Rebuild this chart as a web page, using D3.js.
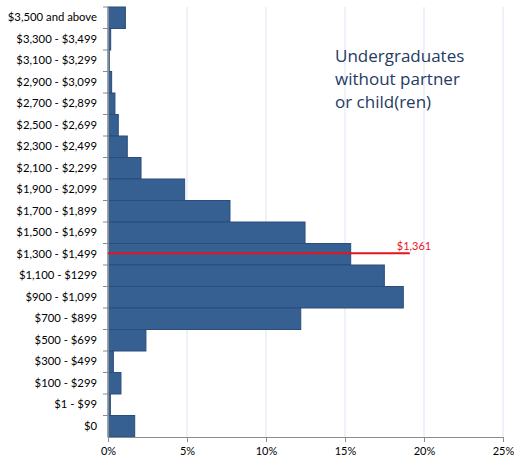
<!DOCTYPE html>
<html>
<head>
<meta charset="utf-8">
<script src="https://cdn.jsdelivr.net/npm/d3@7"></script>
<style>
  body { margin: 0; background: #fff; }
  svg { display: block; }
</style>
</head>
<body>
<svg id="chart" width="514" height="457"></svg>
<script>
// income bands, top to bottom
var categories = ["$3,500 and above", "$3,300 - $3,499", "$3,100 - $3,299", "$2,900 - $3,099",
  "$2,700 - $2,899", "$2,500 - $2,699", "$2,300 - $2,499", "$2,100 - $2,299", "$1,900 - $2,099",
  "$1,700 - $1,899", "$1,500 - $1,699", "$1,300 - $1,499", "$1,100 - $1299", "$900 - $1,099",
  "$700 - $899", "$500 - $699", "$300 - $499", "$100 - $299", "$1 - $99", "$0"];
// percent of students
var percents = [1.1, 0.17, 0.08, 0.23, 0.44, 0.65, 1.22, 2.09, 4.85, 7.72,
  12.47, 15.36, 17.49, 18.69, 12.2, 2.4, 0.34, 0.82, 0.15, 1.69];
var xTicks = [0, 5, 10, 15, 20, 25];
var medianLabel = "$1,361";
var medianBand = "$1,300 - $1,499";
var medianLineEnd = 19.1;
var titleLines = ["Undergraduates", "without partner", "or child(ren)"];

var svg = d3.select("#chart");
var margin = {top: 7, right: 11, bottom: 20, left: 108};
var width = +svg.attr("width") - margin.left - margin.right;
var height = +svg.attr("height") - margin.top - margin.bottom;
var g = svg.append("g").attr("transform", "translate(" + margin.left + "," + margin.top + ")");

var x = d3.scaleLinear().domain([0, 25]).range([0, width]);
var y = d3.scaleBand().domain(categories).range([0, height]).padding(0);

// gridlines
g.selectAll(".grid")
  .data(xTicks.slice(1))
  .enter().append("line")
    .attr("class", "grid")
    .attr("x1", d => x(d)).attr("x2", d => x(d))
    .attr("y1", 0).attr("y2", height)
    .attr("stroke", "#dce4f4")
    .attr("stroke-width", 1);

// bars
g.selectAll(".bar")
  .data(percents)
  .enter().append("rect")
    .attr("class", "bar")
    .attr("x", 0)
    .attr("y", (d, i) => y(categories[i]))
    .attr("width", d => x(d))
    .attr("height", y.bandwidth())
    .attr("fill", "#365f92")
    .attr("stroke", "#2a4d7a")
    .attr("stroke-width", 1);

// axes
var yAxis = g.append("g")
  .call(d3.axisLeft(y).tickSize(0).tickPadding(11));
yAxis.select(".domain").attr("stroke", "#8c8c8c");
yAxis.selectAll("text")
  .attr("font-family", "Lato, 'DejaVu Sans', sans-serif")
  .attr("font-size", 11.3)
  .attr("fill", "#000");

// band boundary ticks
g.selectAll(".btick")
  .data(categories)
  .enter().append("line")
    .attr("class", "btick")
    .attr("x1", -5).attr("x2", 0)
    .attr("y1", d => y(d)).attr("y2", d => y(d))
    .attr("stroke", "#8c8c8c");

var xAxis = g.append("g")
  .attr("transform", "translate(0," + height + ")")
  .call(d3.axisBottom(x).tickValues(xTicks).tickFormat(d => d + "%").tickSize(5).tickSizeOuter(0).tickPadding(5));
xAxis.select(".domain").attr("stroke", "#8c8c8c");
xAxis.selectAll(".tick line").attr("stroke", "#8c8c8c");
xAxis.selectAll("text")
  .attr("font-family", "Lato, 'DejaVu Sans', sans-serif")
  .attr("font-size", 11)
  .attr("fill", "#000");

// median line
var my = y(medianBand) + y.bandwidth() / 2 - 1;
g.append("line")
  .attr("x1", 0).attr("x2", x(medianLineEnd))
  .attr("y1", my).attr("y2", my)
  .attr("stroke", "#e8141c")
  .attr("stroke-width", 2);
g.append("text")
  .attr("x", x(medianLineEnd) - 13)
  .attr("y", my - 3)
  .attr("text-anchor", "start")
  .attr("font-family", "Lato, 'DejaVu Sans', sans-serif")
  .attr("font-size", 11)
  .attr("fill", "#e8141c")
  .text(medianLabel);

// title
svg.append("text")
  .attr("font-family", "'Open Sans', 'Noto Sans', sans-serif")
  .attr("font-size", 17)
  .attr("fill", "#1f3b64")
  .selectAll("tspan")
  .data(titleLines)
  .enter().append("tspan")
    .attr("x", 335)
    .attr("y", (d, i) => 62 + i * 23)
    .text(d => d);
</script>
</body>
</html>
